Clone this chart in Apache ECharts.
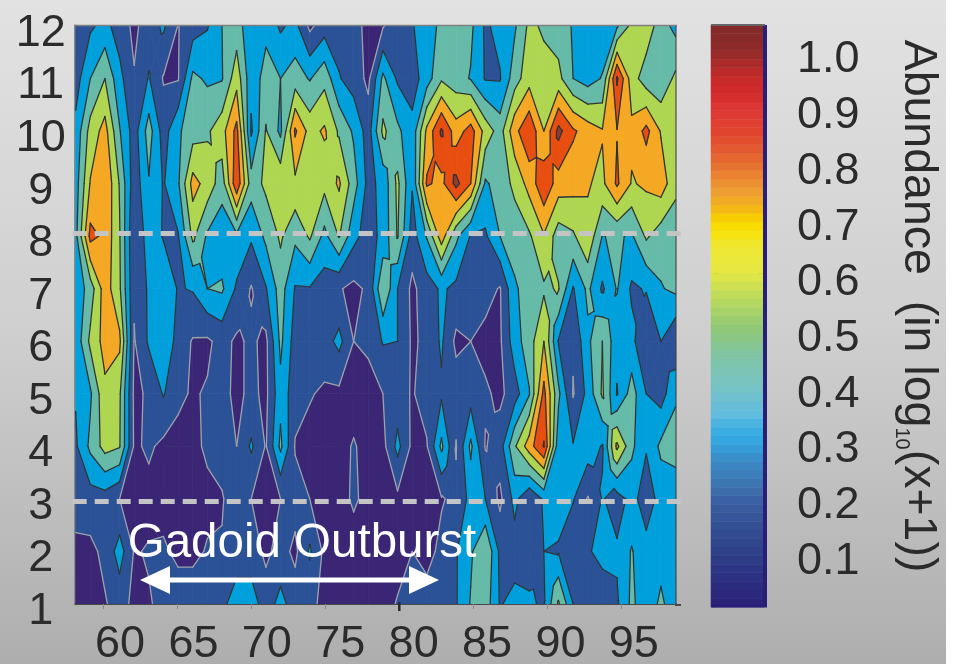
<!DOCTYPE html>
<html><head><meta charset="utf-8">
<style>html,body{margin:0;padding:0;background:#fff}#c{width:958px;height:664px}</style>
<script src="https://cdn.jsdelivr.net/npm/echarts@6/dist/echarts.min.js"></script>
</head><body><div id="c"></div>
<script>
// Monthly abundance (log10(x+1)), one array per month, columns run along the years
const m12=[.20,.24,.30,.20,.10,.20,.28,.125,.20,.25,.39,.45,.30,.35,.24,.30,.10,.20,.20,.18,.09,.12,.20,.25,.33,.42,.45,.42,.24,.30,.37,.55,.50,.45,.38,.36,.30,.37,.56,.60,.45,.35];
const m11=[.2,.39,.52,.3,.14,.27,.12,.12,.42,.37,.38,.6,.3,.45,.39,.45,.38,.48,.27,.2,.1,.42,.24,.2,.33,.5,.45,.38,.25,.25,.46,.6,.57,.56,.39,.33,.4,.93,.58,.45,.42,.55];
const m10=[.3,.57,.7,.4,.2,.45,.2,.37,.46,.5,.6,.82,.24,.53,.36,.8,.6,.67,.5,.37,.2,.55,.42,.3,.68,.93,.71,.84,.6,.46,.74,.89,.65,.95,.8,.72,.66,.775,.68,.82,.64,.54];
const m9=[.33,.66,.77,.51,.18,.38,.25,.37,.7,.6,.45,.88,.45,.55,.62,.62,.6,.56,.67,.45,.22,.3,.55,.27,.8,.74,.95,.78,.37,.45,.55,.7,.88,.72,.7,.66,.62,.8,.64,.67,.72,.56];
const m8=[.35,.82,.75,.53,.13,.33,.25,.25,.55,.37,.3,.36,.28,.42,.54,.42,.54,.35,.53,.3,.2,.3,.53,.2,.4,.72,.42,.25,.24,.39,.45,.5,.64,.45,.5,.62,.385,.41,.37,.54,.45,.43];
const m7=[.3,.45,.72,.54,.15,.28,.36,.25,.27,.39,.41,.24,.12,.25,.45,.25,.25,.2,.14,.1,.15,.52,.26,.1,.2,.28,.23,.2,.18,.12,.37,.45,.5,.53,.25,.42,.24,.4,.24,.27,.38,.42];
const m6=[.3,.55,.7,.68,.12,.28,.39,.2,.12,.11,.17,.11,.15,.1,.42,.2,.18,.2,.3,.13,.15,.27,.26,.11,.16,.28,.1,.13,.09,.11,.33,.46,.65,.25,.15,.36,.52,.3,.3,.13,.26,.13];
const m5=[.27,.37,.62,.54,.1,.15,.27,.15,.12,.14,.17,.1,.16,.1,.35,.18,.14,.11,.1,.08,.09,.13,.18,.12,.18,.24,.2,.2,.15,.1,.2,.38,.82,.42,.12,.3,.54,.25,.45,.26,.2,.37];
const m4=[.24,.42,.57,.53,.11,.15,.1,.1,.1,.15,.18,.13,.28,.12,.42,.12,.09,.08,.09,.14,.09,.09,.3,.1,.12,.42,.12,.42,.12,.2,.5,.72,.92,.3,.27,.33,.25,.68,.42,.27,.42,.45];
const m3=[.22,.2,.2,.13,.1,.09,.08,.08,.09,.1,.12,.2,.13,.1,.13,.18,.13,.08,.08,.15,.09,.08,.1,.09,.1,.12,.16,.3,.26,.1,.3,.14,.28,.3,.27,.12,.27,.2,.3,.2,.3,.3];
const m2=[.08,.1,.16,.32,.12,.14,.15,.1,.1,.14,.14,.2,.2,.1,.18,.1,.28,.1,.08,.07,.07,.12,.08,.13,.09,.16,.25,.37,.52,.23,.2,.23,.26,.25,.15,.25,.29,.28,.4,.3,.33,.3];
const m1=[.08,.1,.12,.18,.1,.12,.16,.2,.2,.2,.23,.32,.32,.2,.3,.2,.16,.1,.08,.07,.07,.08,.14,.17,.18,.2,.25,.4,.46,.25,.3,.27,.25,.54,.26,.2,.2,.24,.42,.3,.42,.3];
const monthRows=[m1,m2,m3,m4,m5,m6,m7,m8,m9,m10,m11,m12];
const months=[1,2,3,4,5,6,7,8,9,10,11,12];
const yearTicks=[60,65,70,75,80,85,90,95];
const barTicks=[0.1,0.2,0.3,0.4,0.5,0.6,0.7,0.8,0.9,1.0];
const levels=[.13,.26,.39,.52,.65,.78,.91];
const bandColors=['#3a2674','#2b5297','#00a0dc','#66bba8','#afd651','#f5a823','#e84e0f','#943a2e'];
const dashMonths=[8.05,2.95];
const boldTicks=[80];
const barStops=[[0,'#2a1f78'],[.05,'#2c2e80'],[.1,'#2e3f88'],[.15,'#345094'],[.2,'#3a62a4'],[.22,'#3e74ae'],[.27,'#3a8cc8'],[.3,'#34a6e0'],[.32,'#3aaee2'],[.35,'#62bce0'],[.4,'#78c4c4'],[.45,'#7ec4a8'],[.5,'#8ec878'],[.55,'#b6d860'],[.6,'#e4e844'],[.65,'#f0e830'],[.68,'#f8e000'],[.7,'#f8cc00'],[.72,'#f2b21c'],[.75,'#ee9a35'],[.8,'#e66a30'],[.85,'#e0452f'],[.9,'#dc3535'],[.92,'#d42a2a'],[.95,'#c62a2a'],[1,'#8f2a2a'],[1.05,'#7f2a2a']];

const XMIN=58.135,XMAX=98.676,XSTEP=14.63/14.8;
const colX=i=>XMIN+i*XSTEP;
const font='"Liberation Sans",Arial,sans-serif';

function clip(poly,L,keepAbove){
  const out=[];
  for(let k=0;k<poly.length;k++){
    const a=poly[k],b=poly[(k+1)%poly.length];
    const ia=keepAbove?a[2]>=L:a[2]<=L, ib=keepAbove?b[2]>=L:b[2]<=L;
    if(ia)out.push(a);
    if(ia!==ib){const t=(L-a[2])/(b[2]-a[2]);out.push([a[0]+t*(b[0]-a[0]),a[1]+t*(b[1]-a[1]),L]);}
  }
  return out;
}
const polys=[],segs=[];
for(let j=0;j<11;j++)for(let i=0;i<41;i++){
  const c=[[colX(i),months[j],monthRows[j][i]],[colX(i+1),months[j],monthRows[j][i+1]],[colX(i+1),months[j+1],monthRows[j+1][i+1]],[colX(i),months[j+1],monthRows[j+1][i]]];
  const saddle=levels.some(L=>{const s=c.map(p=>p[2]>=L);return s[0]===s[2]&&s[1]===s[3]&&s[0]!==s[1];});
  let parts=[c];
  if(saddle){
    const m=[(c[0][0]+c[1][0])/2,(c[0][1]+c[2][1])/2,(c[0][2]+c[1][2]+c[2][2]+c[3][2])/4];
    parts=[[c[0],c[1],m],[c[1],c[2],m],[c[2],c[3],m],[c[3],c[0],m]];
  }
  for(const part of parts){
    for(let b=0;b<bandColors.length;b++){
      let p=part;
      if(b>0)p=clip(p,levels[b-1],true);
      if(p.length&&b<levels.length)p=clip(p,levels[b],false);
      if(p.length>2)polys.push({pts:p,band:b});
    }
    levels.forEach((L,li)=>{
      const cross=[];
      for(let k=0;k<part.length;k++){
        const a=part[k],b=part[(k+1)%part.length];
        if((a[2]>=L)!==(b[2]>=L)){const t=(L-a[2])/(b[2]-a[2]);cross.push([a[0]+t*(b[0]-a[0]),a[1]+t*(b[1]-a[1])]);}
      }
      if(cross.length===2)segs.push({a:cross[0],b:cross[1],li});
    });
  }
}
// colour bar steps
const barSteps=[];
const BARN=68,BARTOP=1.042,BARBOT=0.0064;
for(let k=0;k<BARN;k++){
  const lo=BARBOT+(BARTOP-BARBOT)*k/BARN,hi=BARBOT+(BARTOP-BARBOT)*(k+1)/BARN,mid=(lo+hi)/2;
  let s=0;while(s<barStops.length-2&&barStops[s+1][0]<mid)s++;
  const t=(mid-barStops[s][0])/(barStops[s+1][0]-barStops[s][0]);
  barSteps.push({lo,hi,color:echarts.color.lerp(Math.min(1,Math.max(0,t)),[barStops[s][1],barStops[s+1][1]])});
}
const chart=echarts.init(document.getElementById('c'),null,{renderer:'canvas'});
const L0=75.7,W0=600,T0=26,H0=578;
const labelStyle={fontFamily:font,fontSize:45,color:'#2b2b2b'};
chart.setOption({
  animation:false,
  grid:[{left:L0,top:T0,width:W0,height:H0,outerBoundsMode:'none'},{left:713,top:25,width:50,height:582,outerBoundsMode:'none'}],
  xAxis:[
    {gridIndex:0,type:'value',min:XMIN,max:XMAX,position:'bottom',splitLine:{show:false},
     axisLine:{show:true,onZero:false,lineStyle:{color:'#4a4a4a',width:2}},
     axisTick:{show:true,length:5,customValues:yearTicks,lineStyle:{color:'#8a8a8a',width:1}},
     axisLabel:{show:false}},
    {gridIndex:0,type:'value',min:56.98,max:97.85,position:'bottom',splitLine:{show:false},
     axisLine:{show:false},axisTick:{show:false},
     axisLabel:Object.assign({show:true,margin:18,customValues:yearTicks,formatter:v=>String(v),hideOverlap:false,showMinLabel:true,showMaxLabel:true},labelStyle)},
    {gridIndex:1,type:'value',min:0,max:1,show:false}
  ],
  yAxis:[
    {gridIndex:0,type:'value',min:1,max:12,interval:1,position:'left',splitLine:{show:false},
     axisLine:{show:true,onZero:false,lineStyle:{color:'#8a8a8a',width:3}},axisTick:{show:false},
     axisLabel:Object.assign({margin:35,align:'center',verticalAlign:'top',lineHeight:15,formatter:v=>String(v)},labelStyle)},
    {gridIndex:1,type:'value',min:BARBOT,max:BARTOP,position:'left',splitLine:{show:false},
     axisLine:{show:true,onZero:false,lineStyle:{color:'#222',width:1}},
     axisTick:{show:true,inside:true,length:5,customValues:barTicks,lineStyle:{color:'#333'}},axisLabel:{show:false}},
    {gridIndex:1,type:'value',min:BARBOT,max:BARTOP,position:'right',splitLine:{show:false},
     axisLine:{show:true,onZero:false,lineStyle:{color:'#222',width:1}},
     axisTick:{show:true,inside:true,length:5,customValues:barTicks,lineStyle:{color:'#333'}},axisLabel:{show:false}},
    {gridIndex:1,type:'value',min:0.0108,max:1.0557,position:'right',splitLine:{show:false},
     axisLine:{show:false},axisTick:{show:false},
     axisLabel:Object.assign({show:true,margin:34,verticalAlign:'top',lineHeight:8,customValues:barTicks,formatter:v=>v.toFixed(1),showMinLabel:true,showMaxLabel:true},labelStyle)}
  ],
  series:[
    {type:'custom',name:'bands',xAxisIndex:0,yAxisIndex:0,z:2,silent:true,progressive:0,clip:true,
     data:polys.map((_,i)=>[i]),
     renderItem(p,api){const o=polys[p.dataIndex];const col=bandColors[o.band];
       return {type:'polygon',shape:{points:o.pts.map(q=>api.coord([q[0],q[1]]))},style:{fill:col,stroke:col,lineWidth:0.7}};}},
    {type:'custom',name:'contours',xAxisIndex:0,yAxisIndex:0,z:3,silent:true,progressive:0,clip:true,
     data:segs.map((_,i)=>[i]),
     renderItem(p,api){const o=segs[p.dataIndex];const a=api.coord(o.a),b=api.coord(o.b);
       return {type:'line',shape:{x1:a[0],y1:a[1],x2:b[0],y2:b[1]},
         style:{stroke:o.li===0?'#a0a0aa':'#2f3436',lineWidth:1.3,lineCap:'round'}};}},
    {type:'custom',name:'dashes',xAxisIndex:0,yAxisIndex:0,z:6,silent:true,clip:false,
     data:dashMonths.map(m=>[m]),
     renderItem(p,api){const y=api.coord([XMIN,api.value(0)])[1];
       return {type:'line',shape:{x1:L0-3,y1:y,x2:L0+W0+5,y2:y},style:{stroke:'#c4c4c4',lineWidth:5,lineDash:[14,8]}};}},
    {type:'custom',name:'boldTick',xAxisIndex:0,yAxisIndex:0,z:6,silent:true,clip:false,
     data:boldTicks.map(v=>[v]),
     renderItem(p,api){const c=api.coord([api.value(0),1]);
       return {type:'line',shape:{x1:c[0],y1:c[1]-2,x2:c[0],y2:c[1]+7},style:{stroke:'#2b2b2b',lineWidth:2.5}};}},
    {type:'custom',name:'colorbar',xAxisIndex:2,yAxisIndex:1,z:2,silent:true,progressive:0,clip:false,
     data:barSteps.map((_,i)=>[i]),
     renderItem(p,api){const o=barSteps[p.dataIndex];const a=api.coord([0,o.hi]),b=api.coord([1,o.lo]);
       return {type:'rect',shape:{x:a[0]-2,y:a[1],width:b[0]-a[0]+2,height:b[1]-a[1]},style:{fill:o.color,stroke:o.color,lineWidth:0.5}};}}
  ],
  graphic:[
    {type:'rect',z:-100,silent:true,shape:{x:0,y:0,width:946,height:664},
     style:{fill:new echarts.graphic.LinearGradient(0,0,0,1,[{offset:0,color:'#e2e2e2'},{offset:.5,color:'#cfcfcf'},{offset:1,color:'#aeaeae'}])}},
    {type:'rect',z:5,silent:true,shape:{x:763,y:25,width:4,height:582},style:{fill:'#2a1f78'}},
    {type:'rect',z:5,silent:true,shape:{x:711,y:605,width:56,height:2.5},style:{fill:'#2a1f78'}},
    {type:'line',z:5,silent:true,shape:{x1:711,y1:25,x2:765,y2:25},style:{stroke:'#666',lineWidth:2}},
    {type:'line',z:5,silent:true,shape:{x1:74,y1:25.5,x2:677,y2:25.5},style:{stroke:'#808080',lineWidth:1.5}},
    {type:'line',z:5,silent:true,shape:{x1:676,y1:26,x2:676,y2:604},style:{stroke:'#333',lineWidth:1}},
    {type:'line',z:5,silent:true,shape:{x1:675,y1:605,x2:681,y2:605},style:{stroke:'#4a4a4a',lineWidth:2}},
    {type:'text',z:20,silent:true,x:302,y:544,style:{text:'Gadoid Outburst',fill:'#fff',font:'47.5px '+font,align:'center',verticalAlign:'middle'}},
    {type:'polygon',z:20,silent:true,shape:{points:[[140,580],[170,566],[170,577.5],[409,577.5],[409,566],[439,580],[409,594],[409,582.5],[170,582.5],[170,594]]},style:{fill:'#fff'}},
    {type:'text',z:20,silent:true,x:918,y:306,rotation:-Math.PI/2,
     style:{text:'{a|Abundance  (in log}{s|10}{a|(x+1))}',align:'center',verticalAlign:'middle',
       rich:{a:{font:'46.5px '+font,fill:'#2b2b2b',lineHeight:52},s:{font:'20px '+font,fill:'#2b2b2b',verticalAlign:'bottom',lineHeight:52}}}}
  ]
});
</script></body></html>
